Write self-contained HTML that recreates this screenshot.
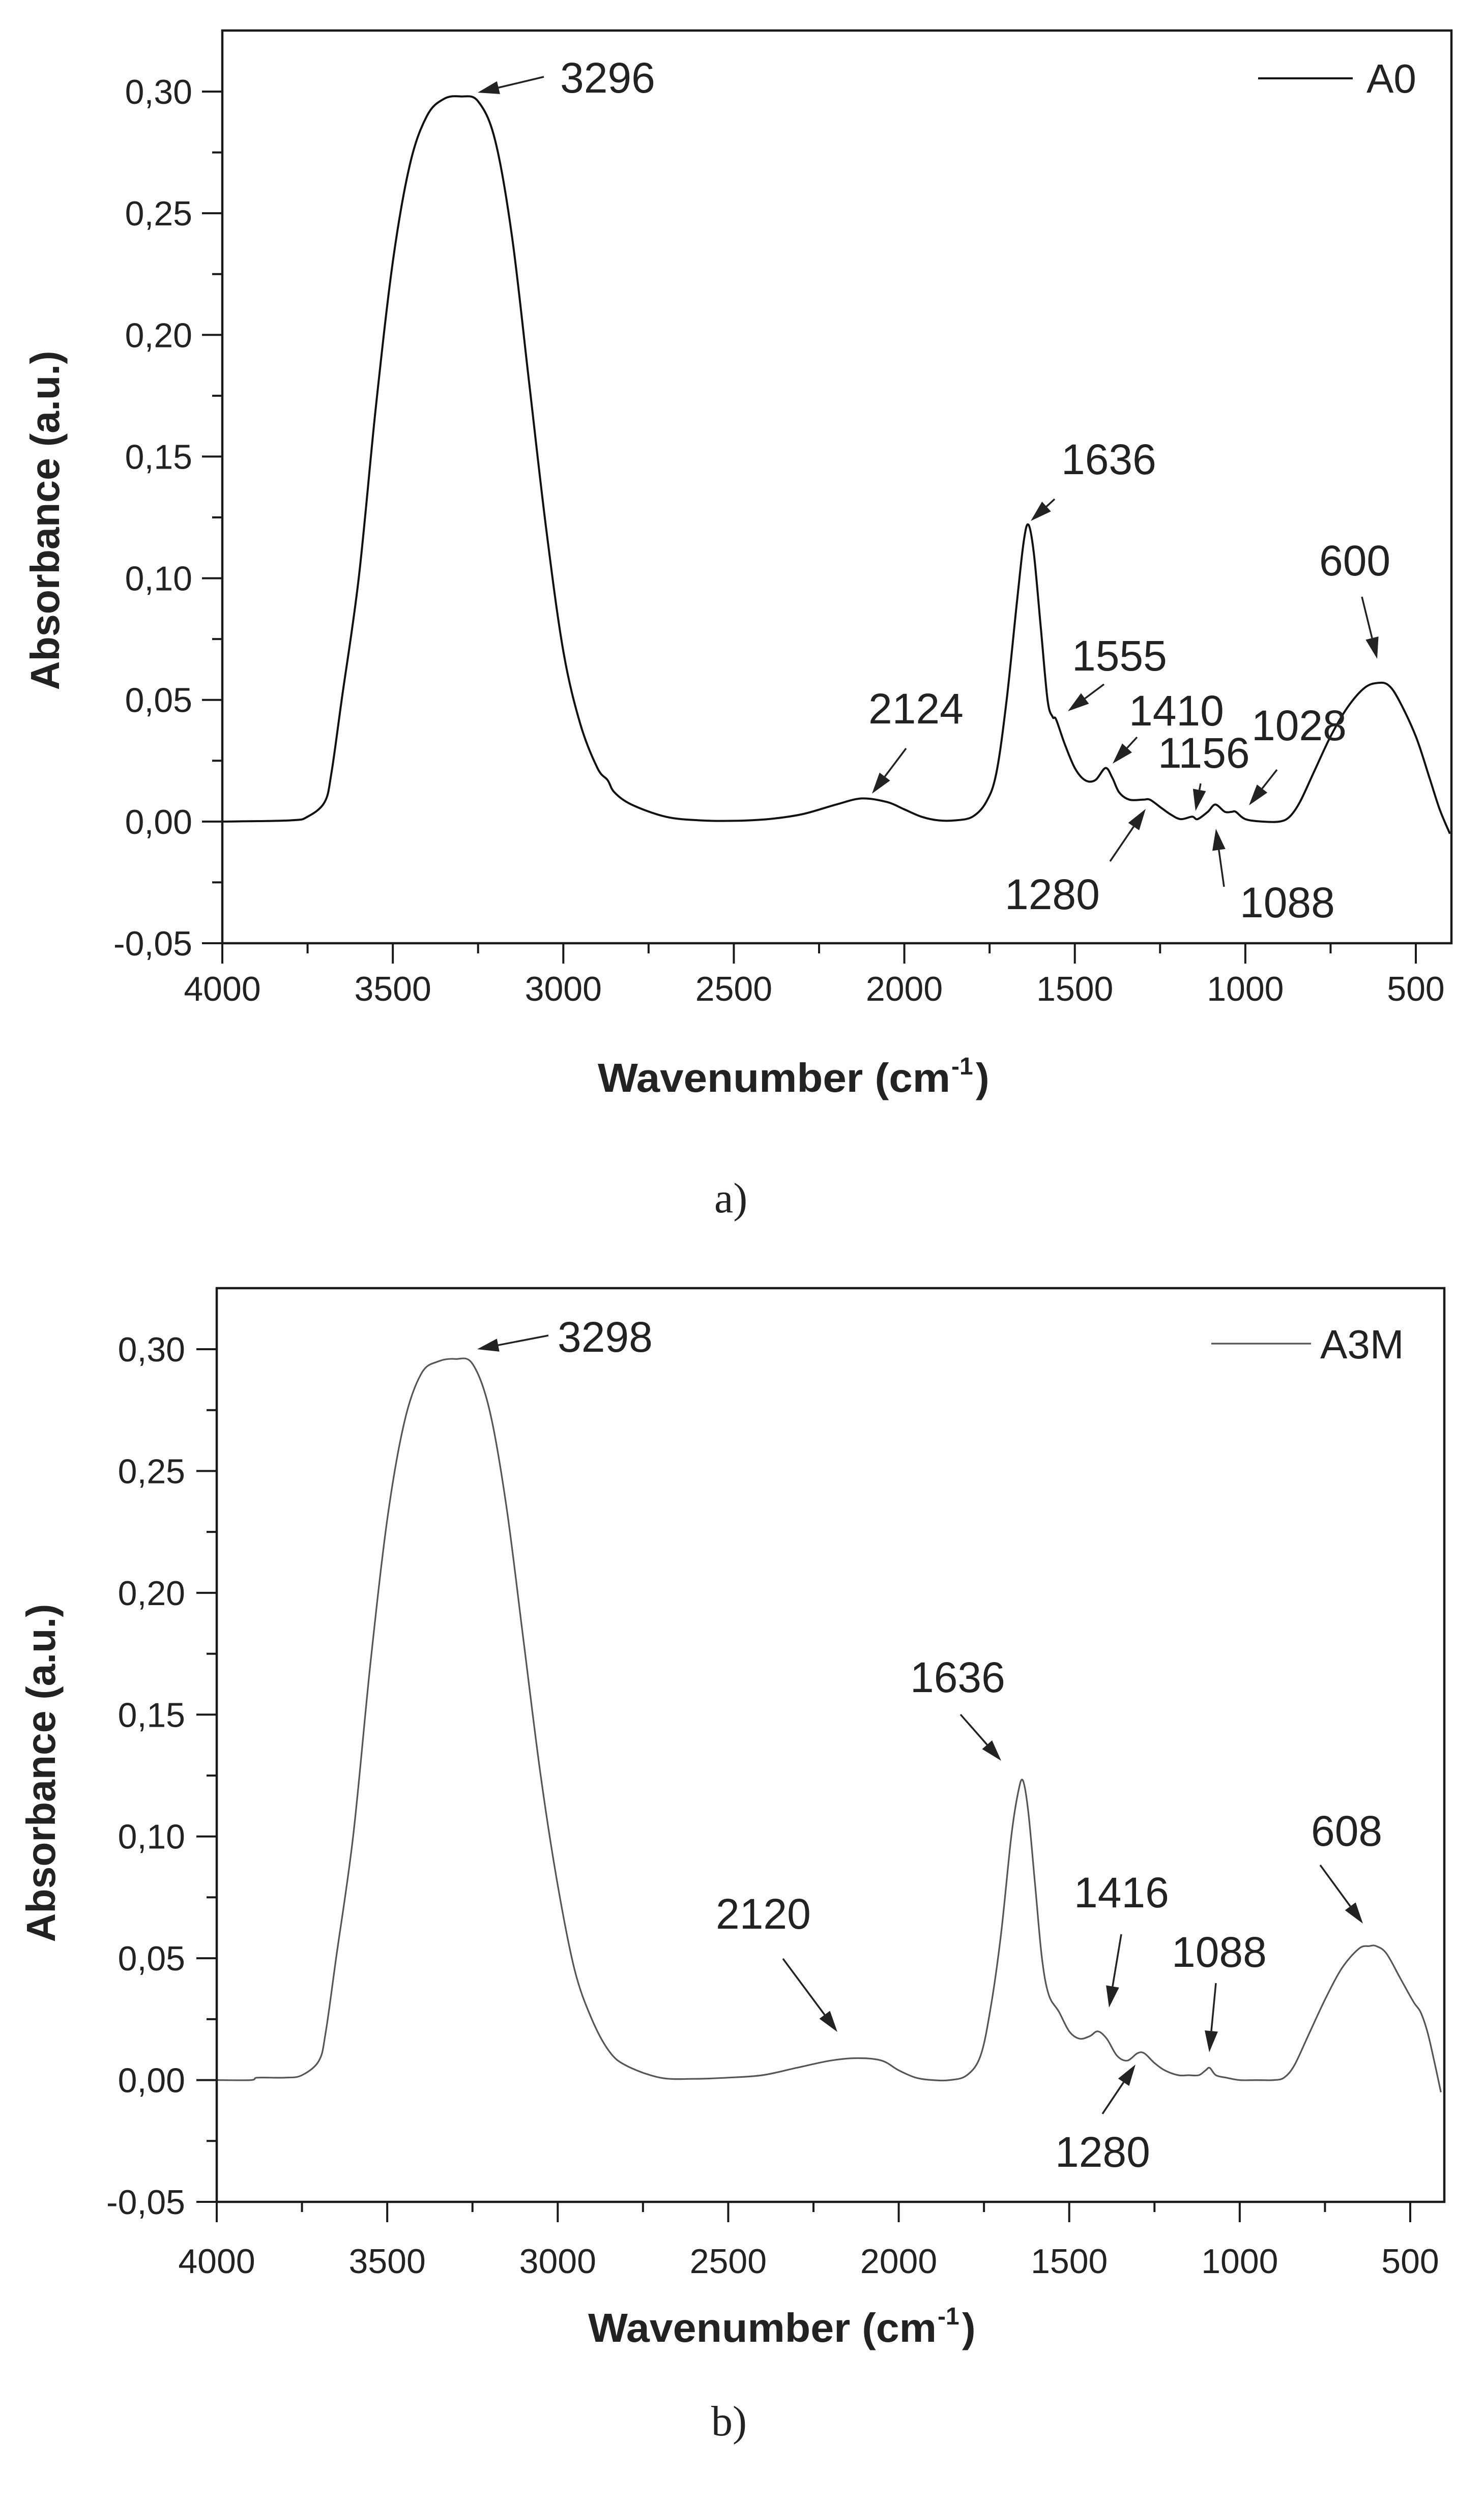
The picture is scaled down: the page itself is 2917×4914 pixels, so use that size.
<!DOCTYPE html>
<html><head><meta charset="utf-8"><style>
html,body{margin:0;padding:0;background:#fff}
svg{display:block}
text{font-family:"Liberation Sans",Arial,sans-serif;fill:#222}
</style></head><body>
<svg id="s" width="2917" height="4914" viewBox="0 0 2917 4914" xmlns="http://www.w3.org/2000/svg"></svg>
<script>
// ---- Data: spectrum A0 ----
const wnA = [4000,3800,3750,3700,3680,3650,3600,3550,3500,3450,3400,3350,3300,3250,3200,3150,3100,3050,3000,2950,2900,2870,2850,2800,2700,2600,2500,2400,2300,2200,2124,2050,2000,1950,1900,1850,1800,1760,1730,1700,1670,1650,1636,1620,1600,1580,1565,1555,1530,1500,1470,1440,1410,1390,1370,1340,1300,1280,1250,1220,1190,1156,1140,1110,1088,1060,1040,1028,1000,950,900,870,840,800,750,700,650,610,580,550,500,460,430,400];
const absA = [0,0.0005,0.002,0.008,0.02,0.05,0.10,0.17,0.23,0.27,0.29,0.297,0.298,0.296,0.28,0.24,0.18,0.12,0.07,0.04,0.022,0.017,0.012,0.007,0.002,0.0005,0.0003,0.001,0.003,0.007,0.0095,0.008,0.005,0.002,0.0005,0.0005,0.002,0.008,0.02,0.05,0.09,0.115,0.122,0.11,0.08,0.05,0.043,0.042,0.032,0.022,0.017,0.017,0.022,0.018,0.012,0.009,0.009,0.009,0.006,0.003,0.001,0.002,0.001,0.004,0.007,0.004,0.004,0.004,0.001,0,0,0.002,0.008,0.02,0.035,0.047,0.055,0.057,0.056,0.05,0.035,0.018,0.005,-0.005];
// ---- Data: spectrum A3M ----
const wnB = [4000,3900,3880,3800,3750,3700,3680,3650,3600,3550,3500,3450,3400,3350,3300,3250,3200,3150,3100,3050,3000,2950,2900,2850,2800,2700,2600,2500,2400,2300,2200,2120,2050,2000,1950,1900,1850,1800,1760,1730,1700,1670,1650,1636,1620,1600,1580,1560,1530,1500,1470,1440,1416,1390,1360,1330,1300,1280,1250,1220,1180,1150,1120,1100,1088,1070,1040,1000,950,900,870,840,800,750,700,650,620,600,570,530,490,470,450,430,410];
const absB = [0,0,0.001,0.001,0.002,0.008,0.02,0.05,0.10,0.17,0.23,0.27,0.29,0.295,0.296,0.294,0.275,0.235,0.18,0.125,0.08,0.045,0.025,0.012,0.006,0.001,0.0005,0.001,0.002,0.005,0.008,0.009,0.008,0.004,0.001,0,0,0.002,0.01,0.03,0.06,0.1,0.118,0.123,0.11,0.08,0.05,0.035,0.028,0.02,0.017,0.018,0.02,0.017,0.01,0.008,0.011,0.011,0.007,0.004,0.002,0.002,0.002,0.004,0.005,0.002,0.001,0,0,0,0.001,0.006,0.018,0.033,0.046,0.054,0.055,0.055,0.052,0.042,0.032,0.028,0.02,0.008,-0.005];
// ---- Tick data ----
const xTicks = [4000,3500,3000,2500,2000,1500,1000,500];
const xMinor = [3750,3250,2750,2250,1750,1250,750];
const yTicks = [-0.05,0,0.05,0.10,0.15,0.20,0.25,0.30];
const yTickLabels = ["-0,05","0,00","0,05","0,10","0,15","0,20","0,25","0,30"];
const yMinor = [-0.025,0.025,0.075,0.125,0.175,0.225,0.275];

const NS="http://www.w3.org/2000/svg";
const svg=document.getElementById('s');
function mk(tag,attrs,parent){const e=document.createElementNS(NS,tag);for(const k in attrs)e.setAttribute(k,attrs[k]);(parent||svg).appendChild(e);return e;}

function arrow(g,x1,y1,x2,y2,name){
  const a=mk('g',{},g);
  
  
  const dx=x2-x1,dy=y2-y1,L=Math.hypot(dx,dy),ux=dx/L,uy=dy/L;
  const hl=42,hw=13;
  const bx=x2-ux*hl,by=y2-uy*hl;
  mk('line',{x1:x1,y1:y1,x2:bx,y2:by,stroke:'#222','stroke-width':3.5},a);
  mk('polygon',{points:`${x2},${y2} ${bx-uy*hw},${by+ux*hw} ${bx+uy*hw},${by-ux*hw}`,fill:'#222'},a);
}

function chart(cfg){
  const g=mk('g',{});
  
  
  const L=cfg.left,T=cfg.top,R=cfg.right,B=cfg.bottom;
  const pxPerWn=(cfg.x500-L)/3500;
  const X=w=>L+(4000-w)*pxPerWn;
  const y0=cfg.y030, y1=B;
  const pxPerA=(y1-y0)/0.35;
  const Y=v=>y1-(v+0.05)*pxPerA;
  const pts=cfg.wn.map((w,i)=>[X(w),Y(cfg.abs[i])]);
  let d=`M${pts[0][0]},${pts[0][1]}`;
  for(let i=0;i<pts.length-1;i++){
    const p0=pts[Math.max(0,i-1)],p1=pts[i],p2=pts[i+1],p3=pts[Math.min(pts.length-1,i+2)];
    const c1x=p1[0]+(p2[0]-p0[0])/6,c1y=p1[1]+(p2[1]-p0[1])/6;
    const c2x=p2[0]-(p3[0]-p1[0])/6,c2y=p2[1]-(p3[1]-p1[1])/6;
    d+=` C${c1x.toFixed(1)},${c1y.toFixed(1)} ${c2x.toFixed(1)},${c2y.toFixed(1)} ${p2[0].toFixed(1)},${p2[1].toFixed(1)}`;
  }
  const clip=mk('clipPath',{id:cfg.name+'-clip'},g);
  mk('rect',{x:L,y:T,width:R-L,height:B-T},clip);
  const line=mk('path',{d:d,fill:'none',stroke:cfg.color,'stroke-width':cfg.lw,'stroke-linejoin':'round','clip-path':`url(#${cfg.name}-clip)`},g);
  
  
  const fr=mk('rect',{x:L,y:T,width:R-L,height:B-T,fill:'none',stroke:'#1a1a1a','stroke-width':4.5},g);
  
  
  xTicks.forEach(w=>{
    const x=X(w);
    mk('line',{x1:x,y1:B,x2:x,y2:B+40,stroke:'#1a1a1a','stroke-width':4},g);
    const t=mk('text',{x:x,y:cfg.xLabBase,'font-size':68,'text-anchor':'middle'},g);
    t.textContent=String(w);
    
    
  });
  xMinor.forEach(w=>{const x=X(w);mk('line',{x1:x,y1:B,x2:x,y2:B+20,stroke:'#1a1a1a','stroke-width':4},g);});
  yTicks.forEach((v,i)=>{
    const y=Y(v);
    mk('line',{x1:L-40,y1:y,x2:L,y2:y,stroke:'#1a1a1a','stroke-width':4},g);
    const t=mk('text',{x:cfg.yLabRight,y:y+24,'font-size':68,'text-anchor':'end'},g);
    t.textContent=yTickLabels[i];
    
    
  });
  yMinor.forEach(v=>{const y=Y(v);mk('line',{x1:L-20,y1:y,x2:L,y2:y,stroke:'#1a1a1a','stroke-width':4},g);});
  const yt=mk('text',{transform:`translate(${cfg.ytX+28},${cfg.ytY}) rotate(-90)`,'font-size':80,'font-weight':'bold','text-anchor':'middle',textLength:cfg.ytLen,lengthAdjust:'spacingAndGlyphs',fill:'#111'},g);
  yt.textContent='Absorbance (a.u.)';
  
  
  const xt=mk('g',{},g);
  
  
  const xa=mk('text',{x:cfg.xtX,y:cfg.xtY,'font-size':80,'font-weight':'bold',textLength:cfg.xtLen-75,lengthAdjust:'spacingAndGlyphs',fill:'#111'},xt);
  xa.textContent='Wavenumber (cm';
  const xs=mk('text',{x:cfg.xtX+cfg.xtLen-73,y:cfg.xtY-34,'font-size':48,'font-weight':'bold',fill:'#111'},xt);
  xs.textContent='-1';
  const xc=mk('text',{x:cfg.xtX+cfg.xtLen-25,y:cfg.xtY,'font-size':80,'font-weight':'bold',fill:'#111'},xt);
  xc.textContent=')';
  const lg=mk('g',{},g);
  
  
  mk('line',{x1:cfg.legX1,y1:cfg.legY,x2:cfg.legX2,y2:cfg.legY,stroke:cfg.color,'stroke-width':cfg.lw},lg);
  const lt=mk('text',{x:cfg.legTX,y:cfg.legTY,'font-size':80},lg);
  lt.textContent=cfg.series;
  cfg.ann.forEach(a=>{
    const t=mk('text',{x:a[1],y:a[2],'font-size':84},g);
    t.textContent=a[0];
    
    
    arrow(g,a[3],a[4],a[5],a[6],'peak-arrow-'+a[0]);
  });
  const c=mk('text',{x:cfg.capX,y:cfg.capY,'font-size':84},g);
  c.setAttribute('style','font-family:"Liberation Serif",serif');
  c.textContent=cfg.cap;
  
  
}

chart({name:'chart-a',series:'A0',wn:wnA,abs:absA,color:'#111',lw:4,
  left:437,top:60,right:2853,bottom:1854,x500:2783,y030:180,
  xLabBase:1967,yLabRight:378,
  ytX:88,ytY:1023,ytLen:667,xtX:1175,xtY:2146,xtLen:768,
  legX1:2473,legX2:2659,legY:154,legTX:2686,legTY:182,
  capX:1404,capY:2383,cap:'a)',
  ann:[
    ['3296',1101,182,1069,151,939,182],
    ['1636',2086,932,2073,981,2026,1024],
    ['600',2593,1131,2677,1173,2707,1295],
    ['2124',1707,1422,1781,1471,1714,1560],
    ['1555',2107,1318,2170,1345,2099,1398],
    ['1410',2219,1426,2235,1449,2187,1501],
    ['1156',2276,1509,2360,1540,2350,1594],
    ['1028',2460,1455,2510,1513,2455,1583],
    ['1280',1975,1787,2182,1693,2252,1590],
    ['1088',2437,1803,2406,1743,2390,1629]
  ]});

chart({name:'chart-b',series:'A3M',wn:wnB,abs:absB,color:'#555',lw:3.2,
  left:426,top:2532,right:2839,bottom:4328,x500:2772,y030:2652,
  xLabBase:4468,yLabRight:364,
  ytX:80,ytY:3485,ytLen:665,xtX:1156,xtY:4603,xtLen:760,
  legX1:2381,legX2:2577,legY:2641,legTX:2595,legTY:2670,
  capX:1398,capY:4787,cap:'b)',
  ann:[
    ['3298',1096,2657,1078,2625,938,2652],
    ['1636',1789,3326,1888,3370,1968,3461],
    ['608',2577,3628,2595,3666,2679,3781],
    ['1416',2111,3749,2204,3802,2180,3946],
    ['2120',1407,3791,1539,3850,1646,3994],
    ['1088',2303,3866,2390,3898,2377,4034],
    ['1280',2074,4259,2167,4155,2232,4058]
  ]});
</script>
</body></html>
